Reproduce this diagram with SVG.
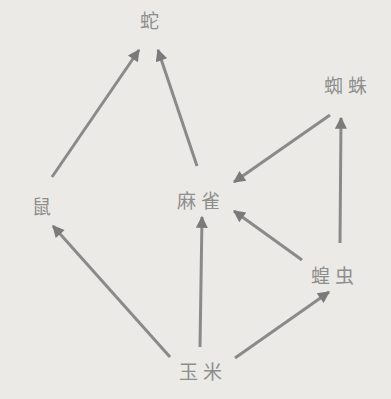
<svg xmlns="http://www.w3.org/2000/svg" width="391" height="399" viewBox="0 0 391 399">
<style>
.lbl{font-family:"Noto Sans CJK SC","Noto Sans CJK JP",sans-serif;font-size:19px;fill:#8e8e8e;text-anchor:middle;dominant-baseline:central;letter-spacing:5px}
.e{stroke:#8a8a8a;stroke-width:3;fill:none;marker-end:url(#ah)}
</style>
<defs>
<marker id="ah" viewBox="0 0 10 10" refX="9" refY="5" markerWidth="6" markerHeight="4" orient="auto" markerUnits="strokeWidth">
<path d="M0,0 L10,5 L0,10 Z" fill="#7a7a7a"/>
</marker>
</defs>
<rect width="391" height="399" fill="#ebeae6"/>
<g id="edges">
<line class="e" x1="52" y1="177" x2="139" y2="50"/>
<line class="e" x1="197" y1="166" x2="158" y2="50"/>
<line class="e" x1="330" y1="115" x2="234" y2="182"/>
<line class="e" x1="340" y1="243" x2="341" y2="118"/>
<line class="e" x1="302" y1="260" x2="234" y2="211"/>
<line class="e" x1="200" y1="347" x2="202" y2="217"/>
<line class="e" x1="170" y1="357" x2="53" y2="226"/>
<line class="e" x1="235" y1="358" x2="329" y2="292"/>
</g>
<g id="snake"><text class="lbl" x="152" y="19">蛇</text></g>
<g id="spider"><text class="lbl" x="348" y="84">蜘蛛</text></g>
<g id="mouse"><text class="lbl" x="44" y="205">鼠</text></g>
<g id="sparrow"><text class="lbl" x="201" y="199">麻雀</text></g>
<g id="locust"><text class="lbl" x="335" y="274">蝗虫</text></g>
<g id="corn"><text class="lbl" x="203" y="370">玉米</text></g>
</svg>
